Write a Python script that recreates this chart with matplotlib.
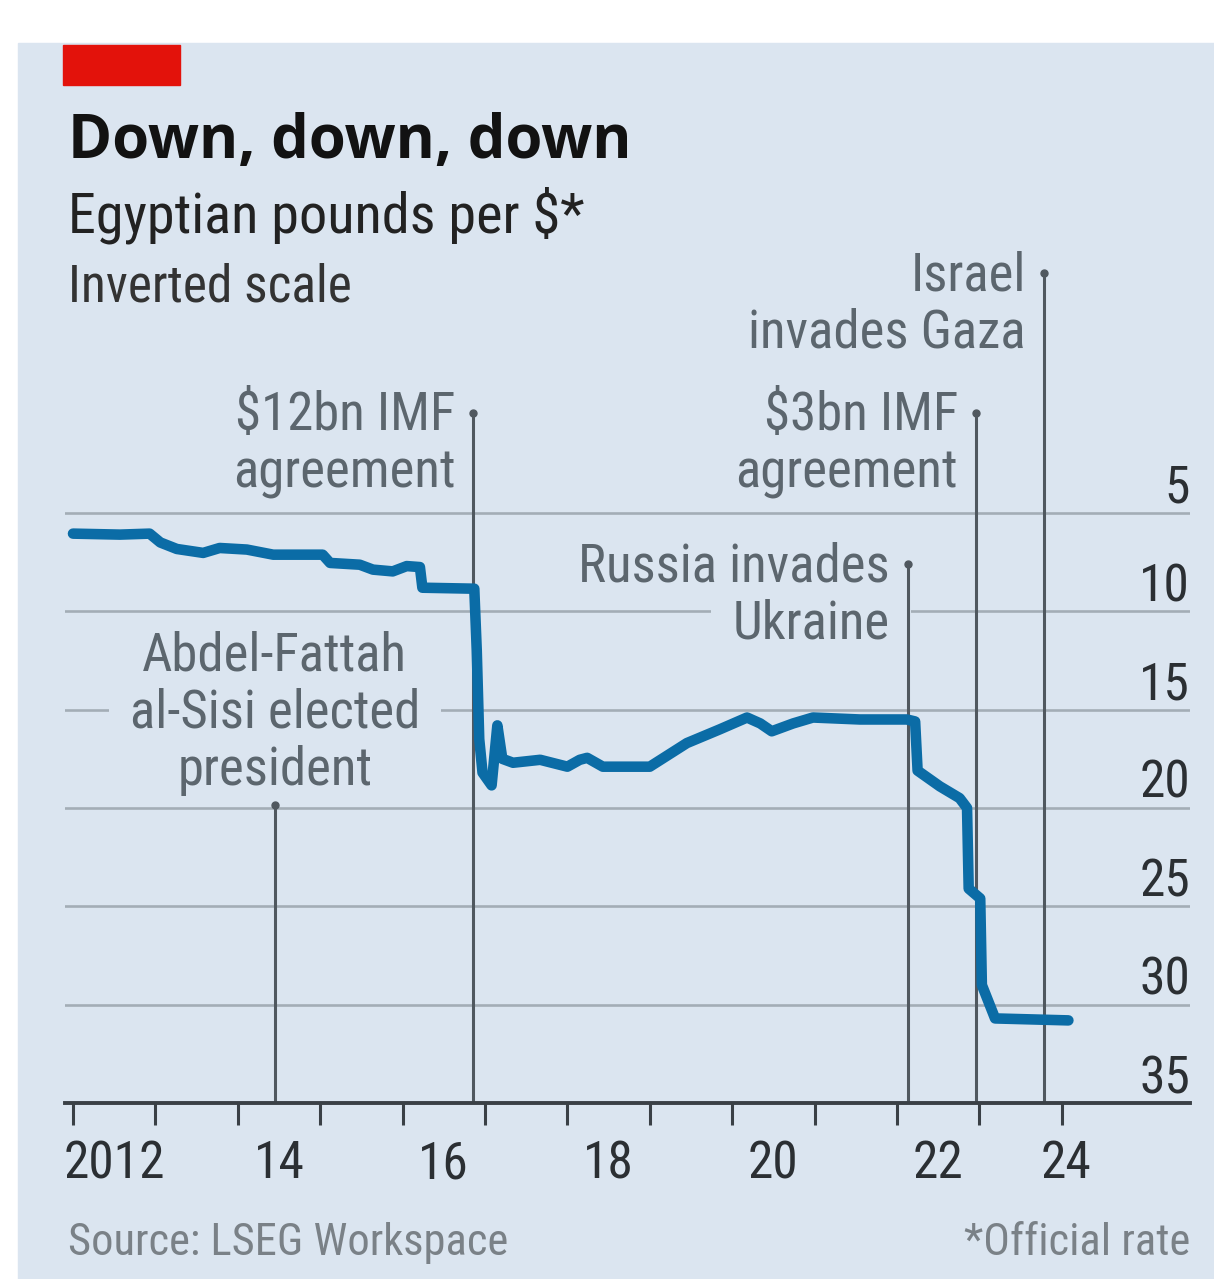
import os
import matplotlib
matplotlib.use("Agg")
import matplotlib.pyplot as plt
from matplotlib import font_manager as fm
from matplotlib.patches import Rectangle
from matplotlib.transforms import ScaledTranslation

# Official Egyptian pound rate, pounds per US dollar (year fractions)
dates = [2012.00, 2012.57, 2012.93, 2013.06, 2013.26, 2013.58, 2013.78, 2014.11,
         2014.43, 2015.03, 2015.12, 2015.48, 2015.64, 2015.88, 2016.05, 2016.21,
         2016.24, 2016.87, 2016.90, 2016.93, 2016.97, 2017.08, 2017.15, 2017.21,
         2017.34, 2017.67, 2018.00, 2018.15, 2018.24, 2018.43, 2019.00, 2019.45,
         2019.85, 2020.18, 2020.34, 2020.48, 2020.74, 2020.98, 2021.55, 2022.12,
         2022.22, 2022.25, 2022.52, 2022.76, 2022.85, 2022.87, 2023.01, 2023.03,
         2023.19, 2024.08]
rate = [6.05, 6.10, 6.05, 6.50, 6.83, 7.03, 6.78, 6.86,
        7.12, 7.12, 7.54, 7.63, 7.88, 7.97, 7.70, 7.75,
        8.80, 8.85, 12.0, 16.5, 18.2, 18.85, 15.8, 17.5,
        17.7, 17.55, 17.9, 17.55, 17.45, 17.9, 17.9, 16.7,
        16.0, 15.4, 15.7, 16.1, 15.7, 15.4, 15.5, 15.5,
        15.6, 18.1, 18.9, 19.5, 20.0, 24.1, 24.6, 29.0,
        30.7, 30.8]

# Events marked on the chart
event_dates = [2014.45, 2016.86, 2022.13, 2022.96, 2023.78]
event_tops = [19.85, -0.1, 7.6, -0.1, -7.2]
event_labels = [["Abdel-Fattah", "al-Sisi elected", "president"],
                ["$12bn IMF", "agreement"],
                ["Russia invades", "Ukraine"],
                ["$3bn IMF", "agreement"],
                ["Israel", "invades Gaza"]]

year_ticks = list(range(2012, 2025))
year_label_pos = [2012.5, 2014.5, 2016.5, 2018.5, 2020.5, 2022.5, 2024.05]
year_labels = ["2012", "14", "16", "18", "20", "22", "24"]
rate_ticks = [5, 10, 15, 20, 25, 30, 35]

W, H, DPI = 1214, 1279, 100
BG = "#dbe5f0"
BLUE = "#0b6ca6"
GRID = "#a3adb6"
DARK = "#3a4046"
ANNO = "#5c666e"
VLINE = "#50585f"


def narrow_font():
    """Look for an installed condensed sans; fall back to DejaVu."""
    wanted = ["liberationsansnarrowregular", "liberationsansnarrow",
              "robotocondensedregular", "notosanscondensed",
              "notosanscondensedregular", "opensanscondensedregular",
              "dejavusanscondensed"]
    found = {}
    for f in fm.fontManager.ttflist:
        key = os.path.splitext(os.path.basename(f.fname))[0].lower()
        key = key.replace("-", "").replace("_", "")
        found.setdefault(key, f.fname)
    for w in wanted:
        if w in found:
            return fm.FontProperties(fname=found[w])
    return fm.FontProperties(family="DejaVu Sans", stretch="condensed")


NARROW = narrow_font()


def fp(size):
    p = NARROW.copy()
    p.set_size(size)
    return p


fig = plt.figure(figsize=(W / DPI, H / DPI), dpi=DPI, facecolor="white")

# panel background and red tag
fig.patches.append(Rectangle((18 / W, 0), 1 - 18 / W, 1 - 43 / H,
                             transform=fig.transFigure, color=BG, zorder=-10))
fig.patches.append(Rectangle((63 / W, 1 - 85 / H), 117 / W, 40 / H,
                             transform=fig.transFigure, color="#e3120b", zorder=-5))

fig.text(68 / W, 1 - 158 / H, "Down, down, down", family="Open Sans",
         weight="bold", fontsize=43, color="#121212", va="baseline")
fig.text(68 / W, 1 - 233 / H, "Egyptian pounds per $*", fontproperties=fp(40.5),
         color="#222222", va="baseline")
fig.text(68 / W, 1 - 302 / H, "Inverted scale", fontproperties=fp(37),
         color="#333333", va="baseline")
fig.text(68 / W, 1 - 1255 / H, "Source: LSEG Workspace", fontproperties=fp(32),
         color="#7a8187", va="baseline")
fig.text(1190 / W, 1 - 1255 / H, "*Official rate", fontproperties=fp(32),
         color="#7a8187", va="baseline", ha="right")

ax = fig.add_axes([65 / W, (H - 1103) / H, 1125 / W, (1103 - 257.3) / H])
ax.set_facecolor("none")
ax.set_xlim(2012 - 8 / 82.4, 2012 + (1190 - 73) / 82.4)
ax.set_ylim(35, -8)

for s in ["top", "left", "right"]:
    ax.spines[s].set_visible(False)
ax.spines["bottom"].set_color(DARK)
ax.spines["bottom"].set_linewidth(2.8)
ax.spines["bottom"].set_zorder(4)

# y axis: gridlines with labels sitting above them on the right
ax.yaxis.tick_right()
ax.set_yticks(rate_ticks)
ax.set_yticklabels([str(v) for v in rate_ticks])
ax.tick_params(axis="y", length=0, pad=0, labelcolor="#2b2f33")
lift = ScaledTranslation(0, 10 / DPI, fig.dpi_scale_trans)
for lab in ax.get_yticklabels():
    lab.set_fontproperties(fp(37))
    lab.set_horizontalalignment("right")
    lab.set_verticalalignment("baseline")
    lab.set_transform(lab.get_transform() + lift)
ax.grid(axis="y", color=GRID, linewidth=1.9, zorder=0.5)
ax.set_axisbelow(True)

# x axis: year ticks, labels centred on each year
ax.set_xticks(year_ticks)
ax.set_xticklabels([])
ax.set_xticks(year_label_pos, minor=True)
ax.set_xticklabels(year_labels, minor=True)
ax.tick_params(axis="x", which="major", direction="out", length=16, width=2.2,
               color=DARK)
ax.tick_params(axis="x", which="minor", length=0, pad=26, labelcolor="#2b2f33")
for lab in ax.get_xticklabels(minor=True):
    lab.set_fontproperties(fp(37))

# event markers
ax.vlines(event_dates, event_tops, 35, color=VLINE, linewidth=2.2, zorder=2)
ax.plot(event_dates, event_tops, "o", color=VLINE, ms=5, zorder=2, clip_on=False)

for i, (d, top, lines) in enumerate(zip(event_dates, event_tops, event_labels)):
    n = len(lines)
    for j, line in enumerate(lines):
        mask = line in ("al-Sisi elected", "Ukraine")
        if i == 0:
            off = (0, 20 + (n - 1 - j) * 57.5)
            ha = "center"
        else:
            off = (-18, -17 - j * 57.5)
            ha = "right"
        kw = {}
        if mask:
            kw["bbox"] = dict(boxstyle="square,pad=0.4", fc=BG, ec="none")
        ax.annotate(line, xy=(d, top), xytext=off, textcoords="offset pixels",
                    ha=ha, va="baseline", fontproperties=fp(38), color=ANNO,
                    zorder=1 if mask else 3, annotation_clip=False, **kw)

ax.plot(dates, rate, color=BLUE, linewidth=7.6, solid_capstyle="round",
        solid_joinstyle="round", zorder=3)

fig.savefig("out.png", dpi=DPI, facecolor=fig.get_facecolor())
